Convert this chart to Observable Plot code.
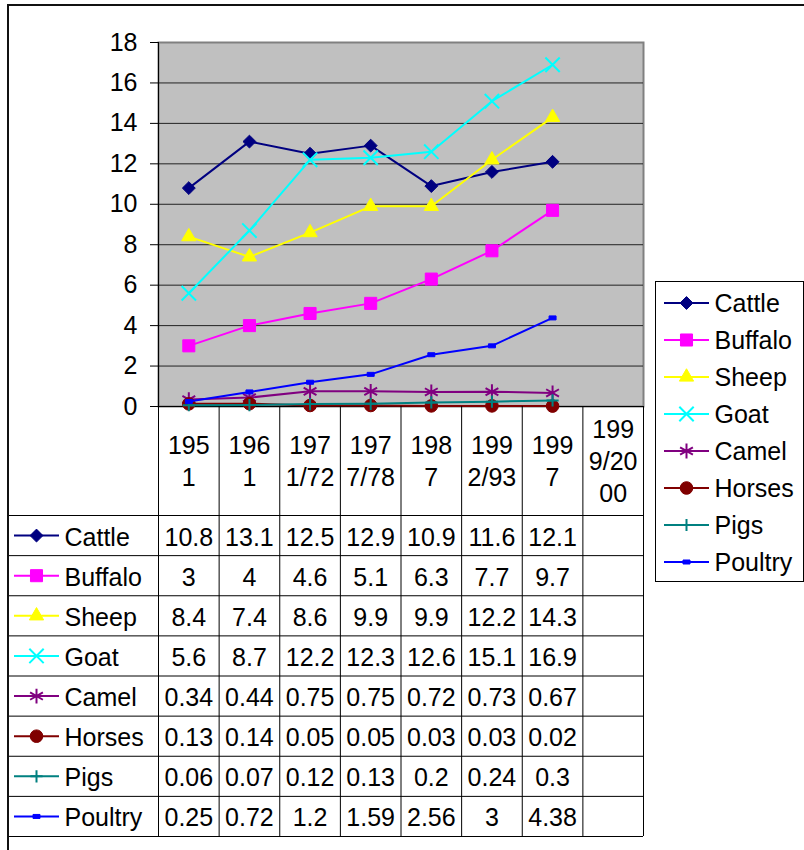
<!DOCTYPE html>
<html>
<head>
<meta charset="utf-8">
<script src="https://cdn.jsdelivr.net/npm/d3@7"></script>
<script src="https://cdn.jsdelivr.net/npm/@observablehq/plot@0.6"></script>
<style>
  html, body { margin: 0; padding: 0; background: #fff; }
  #wrap { position: relative; width: 804px; height: 850px; overflow: hidden; font-family: "Liberation Sans", Arial, sans-serif; }
  #wrap > svg { position: absolute; }
  .borderTop { position: absolute; left: 7px; top: 4px; width: 797px; height: 2px; background: #111; }
  .borderLeft { position: absolute; left: 7px; top: 4px; width: 2px; height: 846px; background: #111; }
</style>
</head>
<body>
<div id="wrap"></div>
<script>
// ---------- data ----------
const categories = ["1951", "1961", "1971/72", "1977/78", "1987", "1992/93", "1997", "1999/2000"];
const seriesNames = ["Cattle", "Buffalo", "Sheep", "Goat", "Camel", "Horses", "Pigs", "Poultry"];
const cattle  = [10.8, 13.1, 12.5, 12.9, 10.9, 11.6, 12.1];
const buffalo = [3, 4, 4.6, 5.1, 6.3, 7.7, 9.7];
const sheep   = [8.4, 7.4, 8.6, 9.9, 9.9, 12.2, 14.3];
const goat    = [5.6, 8.7, 12.2, 12.3, 12.6, 15.1, 16.9];
const camel   = [0.34, 0.44, 0.75, 0.75, 0.72, 0.73, 0.67];
const horses  = [0.13, 0.14, 0.05, 0.05, 0.03, 0.03, 0.02];
const pigs    = [0.06, 0.07, 0.12, 0.13, 0.2, 0.24, 0.3];
const poultry = [0.25, 0.72, 1.2, 1.59, 2.56, 3, 4.38];
const yTicks  = [0, 2, 4, 6, 8, 10, 12, 14, 16, 18];

const seriesValues = [cattle, buffalo, sheep, goat, camel, horses, pigs, poultry];
const colors = ["#000080", "#FF00FF", "#FFFF00", "#00FFFF", "#800080", "#800000", "#008080", "#0000FF"];

const FS = 25; // font size
const FONT = "Liberation Sans, Arial, sans-serif";

// custom symbols
const dashSymbol = { draw(c) { c.rect(-3.5, -2, 7, 4); } };
const keyLine = { draw(c) { c.moveTo(-22.5, 0); c.lineTo(22.5, 0); } };
// marker styles: [symbol, r, filled]
const markers = [
  ["diamond2", 5.8, true],
  ["square", 6.8, true],
  ["triangle", 5.3, true],
  ["times", 6.6, false],
  ["asterisk", 7, false],
  ["circle", 6.3, true],
  ["plus", 4, false],
  [dashSymbol, 3, true]
];

const long = [];
seriesNames.forEach((s, k) => seriesValues[k].forEach((v, i) => long.push({series: s, k, i, cat: categories[i], value: v})));

// Excel-like character wrapping of category labels inside a column
function wrapLabel(str) {
  const w = ch => (ch === "/" ? 0.278 : 0.556) * FS;
  const maxW = 52;
  const lines = []; let cur = "", cw = 0;
  for (const ch of str) {
    if (cw + w(ch) > maxW && cur) { lines.push(cur); cur = ""; cw = 0; }
    cur += ch; cw += w(ch);
  }
  if (cur) lines.push(cur);
  return lines.join("\n");
}

const wrap = document.getElementById("wrap");

function markerMark(data, k, opts) {
  const [sym, r, filled] = markers[k];
  return Plot.dot(data, {
    ...opts,
    symbol: () => sym,
    r,
    fill: filled ? colors[k] : "none",
    stroke: colors[k],
    strokeWidth: filled ? 1 : 2
  });
}

// ---------- main chart ----------
const chartMarks = [
  Plot.frame({fill: "#C0C0C0", stroke: "#808080", strokeWidth: 2}),
  Plot.ruleY(yTicks.filter(t => t > 0 && t < 18), {stroke: "#222", strokeWidth: 1}),
  Plot.ruleY([0], {stroke: "#000", strokeWidth: 1}),
  Plot.ruleX([0], {stroke: "#000", strokeWidth: 1}),
  Plot.axisY({ticks: yTicks, label: null, tickSize: 8, tickPadding: 13, fontSize: FS, stroke: "#000", tickFormat: d => String(d)})
];
seriesNames.forEach((s, k) => {
  const d = long.filter(e => e.k === k);
  chartMarks.push(Plot.line(d, {x: e => e.i + 0.5, y: "value", stroke: colors[k], strokeWidth: 2}));
  chartMarks.push(markerMark(d, k, {x: e => e.i + 0.5, y: "value"}));
});
const chart = Plot.plot({
  width: 804, height: 420,
  marginLeft: 158, marginRight: 161, marginTop: 42, marginBottom: 14,
  style: {background: "transparent", fontFamily: FONT, overflow: "visible"},
  x: {domain: [0, categories.length], axis: null},
  y: {domain: [0, 18], axis: null},
  marks: chartMarks
});
chart.style.left = "0px"; chart.style.top = "0px";
wrap.appendChild(chart);

// ---------- header row with category labels ----------
const bounds = d3.range(categories.length + 1);
const header = Plot.plot({
  width: 804, height: 109,
  marginLeft: 158, marginRight: 161, marginTop: 0, marginBottom: 0,
  style: {background: "transparent", fontFamily: FONT, overflow: "visible"},
  x: {domain: [0, categories.length], axis: null},
  marks: [
    Plot.ruleX(bounds, {stroke: "#000"}),
    Plot.text(categories, {
      x: (d, i) => i + 0.5,
      frameAnchor: "middle",
      text: d => wrapLabel(d),
      fontSize: FS, lineHeight: 1.27, dy: -1, fill: "#000"
    })
  ]
});
header.style.left = "0px"; header.style.top = "406px";
wrap.appendChild(header);

// ---------- data table ----------
const rowBounds = d3.range(seriesNames.length + 1);
const tableMarks = [
  Plot.ruleY(rowBounds, {stroke: "#000"}),
  Plot.ruleX(bounds, {stroke: "#000"}),
  Plot.text(long, {x: e => e.i + 0.5, y: e => e.k + 0.5, text: e => String(e.value), fontSize: FS, dy: 2, fill: "#000"}),
  Plot.text(seriesNames, {y: (d, k) => k + 0.5, frameAnchor: "left", dx: 56, text: d => d, textAnchor: "start", fontSize: FS, dy: 2, fill: "#000"})
];
seriesNames.forEach((s, k) => {
  tableMarks.push(Plot.dot([s], {y: () => k + 0.5, frameAnchor: "left", dx: 28, symbol: () => keyLine, r: 5, stroke: colors[k], strokeWidth: 2, fill: "none"}));
  tableMarks.push(markerMark([s], k, {y: () => k + 0.5, frameAnchor: "left", dx: 28}));
});
const table = Plot.plot({
  width: 804, height: 335,
  marginLeft: 8, marginRight: 161, marginTop: 0, marginBottom: 14,
  style: {background: "transparent", fontFamily: FONT, overflow: "visible"},
  x: {domain: [0, categories.length], range: [158, 643], axis: null},
  y: {domain: [0, seriesNames.length], range: [0, 321], axis: null},
  marks: tableMarks
});
table.style.left = "0px"; table.style.top = "515px";
wrap.appendChild(table);

// ---------- legend ----------
const legendMarks = [
  Plot.frame({stroke: "#000", strokeWidth: 1}),
  Plot.text(seriesNames, {y: d => d, frameAnchor: "left", dx: 59, text: d => d, textAnchor: "start", fontSize: FS, dy: 1, fill: "#000"})
];
seriesNames.forEach((s, k) => {
  legendMarks.push(Plot.dot([s], {y: d => d, frameAnchor: "left", dx: 31, symbol: () => keyLine, r: 5, stroke: colors[k], strokeWidth: 2, fill: "none"}));
  legendMarks.push(markerMark([s], k, {y: d => d, frameAnchor: "left", dx: 31}));
});
const legend = Plot.plot({
  width: 148, height: 300,
  marginLeft: 0, marginRight: 0, marginTop: 0, marginBottom: 0,
  style: {background: "transparent", fontFamily: FONT, overflow: "visible"},
  y: {type: "band", domain: seriesNames, range: [2, 299], padding: 0, axis: null},
  marks: legendMarks
});
legend.style.left = "655px"; legend.style.top = "281px";
wrap.appendChild(legend);

// outer chart border
const bt = document.createElement("div"); bt.className = "borderTop"; wrap.appendChild(bt);
const bl = document.createElement("div"); bl.className = "borderLeft"; wrap.appendChild(bl);
</script>
</body>
</html>
